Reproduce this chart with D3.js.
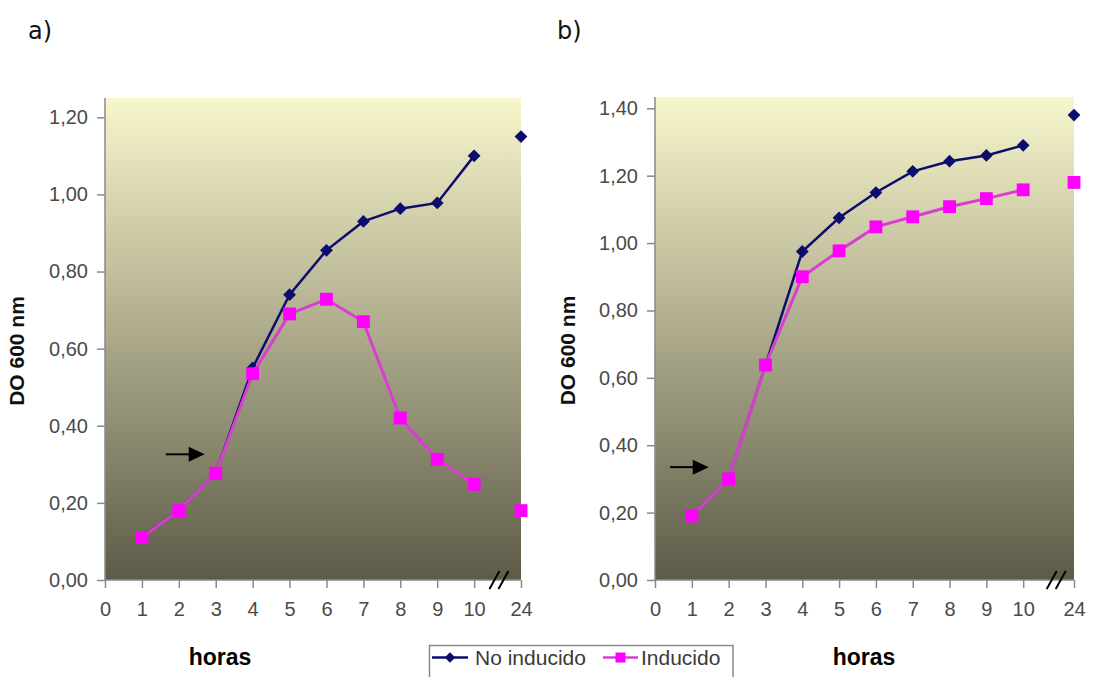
<!DOCTYPE html>
<html><head><meta charset="utf-8">
<script src="https://cdn.jsdelivr.net/npm/d3@7"></script>
<style>
html,body{margin:0;padding:0;background:#fff;}
svg{display:block;}
</style></head>
<body>
<svg id="c" width="1094" height="677"></svg>
<script>
// ---- data ----
const xLabels = ["0","1","2","3","4","5","6","7","8","9","10","24"];
const hours = [1,2,3,4,5,6,7,8,9,10,24];
const aNoInducido = [0.11,0.18,0.277,0.55,0.74,0.855,0.93,0.963,0.978,1.10,1.15];
const aInducido   = [0.11,0.18,0.277,0.535,0.69,0.728,0.67,0.42,0.313,0.248,0.18];
const bNoInducido = [0.19,0.30,0.638,0.975,1.075,1.15,1.213,1.243,1.26,1.29,1.38];
const bInducido   = [0.19,0.30,0.638,0.90,0.977,1.048,1.078,1.108,1.132,1.158,1.18];
const aYTicks = [0,0.2,0.4,0.6,0.8,1.0,1.2];
const bYTicks = [0,0.2,0.4,0.6,0.8,1.0,1.2,1.4];
const seriesNames = ["No inducido","Inducido"];
const panelLabels = ["a)","b)"];
const aArrow = [{x:1.65,y:0.326},{x:2.7,y:0.326}];
const bArrow = [{x:0.41,y:0.335},{x:1.46,y:0.335}];

const svg = d3.select("#c");
const defs = svg.append("defs");
const grad = defs.append("linearGradient").attr("id","bg").attr("x1",0).attr("y1",0).attr("x2",0).attr("y2",1);
grad.append("stop").attr("offset","0%").attr("stop-color","#f8f6cc");
grad.append("stop").attr("offset","50%").attr("stop-color","#aba98a");
grad.append("stop").attr("offset","100%").attr("stop-color","#5d5b48");

const BLUE = "#0d0d6e", PINK_LINE = "#d83fd0", PINK = "#ff00ff";
const FONT = "Liberation Sans, Arial, sans-serif";
const hourIndex = h => h <= 10 ? h : 11;
const fmt = v => d3.format(".2f")(v).replace(".", ",");

function panel(cfg){
  const g = svg.append("g");
  const {left,right,top,bottom,yMax,yTop,ticks,noInd,ind,arrow,breakIdx,titleX,horasX,breakPos} = cfg;
  const x10 = left + (right-left)*10/breakPos;
  const x = d3.scaleLinear().domain([0,10,11]).range([left,x10,right]);
  const y = d3.scaleLinear().domain([0,yMax]).range([bottom,yTop]);

  g.append("rect").attr("x",left).attr("y",top).attr("width",right-left).attr("height",bottom-top)
    .attr("fill","url(#bg)");

  // y axis
  const ya = g.append("g").attr("transform",`translate(${left},0)`)
    .call(d3.axisLeft(y).tickValues(ticks).tickFormat(fmt).tickSize(8).tickSizeOuter(0).tickPadding(9));
  ya.select(".domain").remove();
  ya.append("line").attr("x1",0).attr("x2",0).attr("y1",top).attr("y2",bottom).attr("stroke","#8a8a8a").attr("stroke-width",1.5);
  ya.selectAll(".tick line").attr("stroke","#8a8a8a").attr("stroke-width",1.5);
  ya.selectAll(".tick text").attr("font-family",FONT).attr("font-size",20).attr("fill","#4a4a4a");

  // x axis
  const xa = g.append("g").attr("transform",`translate(0,${bottom})`)
    .call(d3.axisBottom(x).tickValues(d3.range(12)).tickFormat(i=>xLabels[i]).tickSize(8).tickSizeOuter(0).tickPadding(14));
  xa.select(".domain").remove();
  xa.append("line").attr("x1",left).attr("x2",right).attr("y1",0).attr("y2",0).attr("stroke","#8a8a8a").attr("stroke-width",1.5);
  xa.selectAll(".tick line").attr("stroke","#8a8a8a").attr("stroke-width",1.5);
  xa.selectAll(".tick text").attr("font-family",FONT).attr("font-size",20).attr("fill","#4a4a4a");

  // break marks
  const bx = x(breakIdx), by = y(0);
  [-4.5,4.5].forEach(o=>{
    g.append("line").attr("x1",bx+o-5).attr("y1",by+9).attr("x2",bx+o+5).attr("y2",by-9)
      .attr("stroke","#000").attr("stroke-width",2);
  });

  // series
  const pts = vals => hours.map((h,i)=>({h, v:vals[i]}));
  const line = d3.line().x(d=>x(hourIndex(d.h))).y(d=>y(d.v));
  const drawSeries = (vals, lineColor, lineWidth, markColor, diamond) => {
    const p = pts(vals);
    g.append("path").datum(p.filter(d=>d.h<=10)).attr("d",line)
      .attr("fill","none").attr("stroke",lineColor).attr("stroke-width",lineWidth);
    const sym = d3.symbol().type(d3.symbolSquare).size(diamond?82:165);
    g.selectAll(null).data(p).enter().append("path")
      .attr("d",sym)
      .attr("transform",d=>`translate(${x(hourIndex(d.h))},${y(d.v)})${diamond?" rotate(45)":""}`)
      .attr("fill",markColor);
  };
  drawSeries(noInd, BLUE, 2.5, BLUE, true);
  drawSeries(ind, PINK_LINE, 3, PINK, false);

  // arrow
  const ax1 = x(arrow[0].x), ax2 = x(arrow[1].x), ay = y(arrow[0].y);
  g.append("line").attr("x1",ax1).attr("x2",ax2-12).attr("y1",ay).attr("y2",ay).attr("stroke","#000").attr("stroke-width",2);
  g.append("path").attr("d",`M${ax2},${ay}L${ax2-16},${ay-7.5}L${ax2-16},${ay+7.5}Z`).attr("fill","#000");

  // titles
  g.append("text").attr("transform",`translate(${titleX},${(top+bottom)/2 + 12}) rotate(-90)`)
    .attr("text-anchor","middle").attr("font-family",FONT)
    .attr("font-weight","bold").attr("font-size",21).attr("fill","#111").text("DO 600 nm");
  g.append("text").attr("x",horasX).attr("y",665).attr("text-anchor","middle")
    .attr("font-family",FONT).attr("font-weight","bold")
    .attr("font-size",23).attr("fill","#000").text("horas");
}

panel({left:105,right:521,top:98,bottom:580,yMax:1.2,yTop:117.3,ticks:aYTicks,noInd:aNoInducido,ind:aInducido,
  arrow:aArrow,breakIdx:10.53,breakPos:11.27,titleX:24,horasX:220});
panel({left:655,right:1074,top:97,bottom:580,yMax:1.4,yTop:108.3,ticks:bYTicks,noInd:bNoInducido,ind:bInducido,
  arrow:bArrow,breakIdx:10.65,breakPos:11.38,titleX:575,horasX:864});

// panel labels
[[28,panelLabels[0]],[557,panelLabels[1]]].forEach(([px,t])=>{
  svg.append("text").attr("x",px).attr("y",39).attr("font-family","DejaVu Sans, Verdana, sans-serif")
    .attr("font-size",24).attr("fill","#111").text(t);
});

// legend
const lg = svg.append("g");
lg.append("rect").attr("x",429.5).attr("y",645.5).attr("width",303.5).attr("height",45)
  .attr("fill","#fff").attr("stroke","#8a8a8a").attr("stroke-width",1.5);
const ly = 657.5;
const legendItems = [
  {name:seriesNames[0], x1:432, x2:468, color:BLUE, mark:BLUE, diamond:true, tx:475},
  {name:seriesNames[1], x1:603, x2:638, color:PINK_LINE, mark:PINK, diamond:false, tx:641}
];
legendItems.forEach(it=>{
  lg.append("line").attr("x1",it.x1).attr("x2",it.x2).attr("y1",ly).attr("y2",ly).attr("stroke",it.color).attr("stroke-width",2.5);
  lg.append("path").attr("d",d3.symbol().type(d3.symbolSquare).size(it.diamond?55:100)())
    .attr("transform",`translate(${(it.x1+it.x2)/2},${ly})${it.diamond?" rotate(45)":""}`).attr("fill",it.mark);
  lg.append("text").attr("x",it.tx).attr("y",ly+7.5).attr("font-family",FONT)
    .attr("font-size",21).attr("fill","#3a3a3a").text(it.name);
});
</script>
</body></html>
